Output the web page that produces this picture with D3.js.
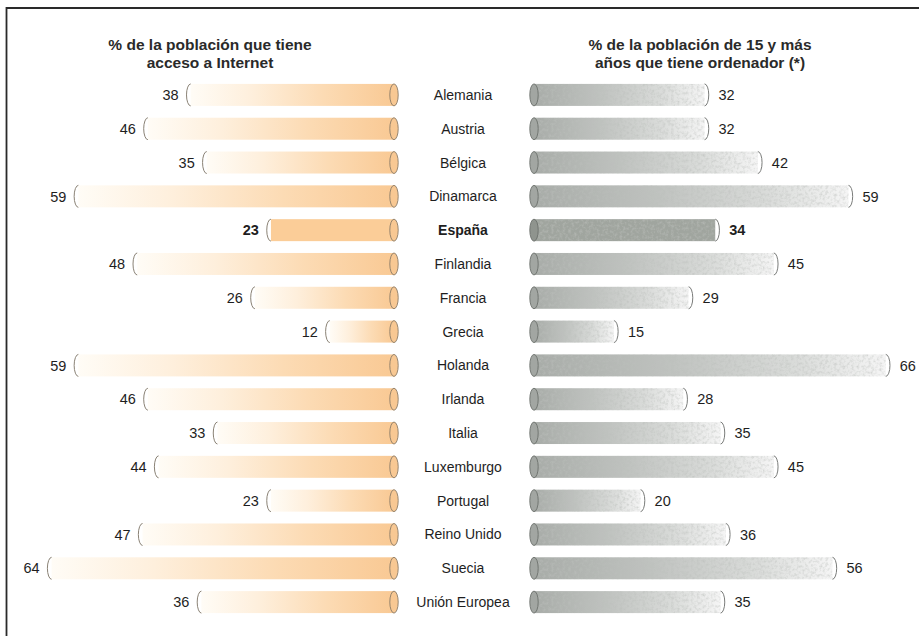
<!DOCTYPE html>
<html lang="es">
<head>
<meta charset="utf-8">
<script src="https://cdn.jsdelivr.net/npm/d3@7"></script>
<style>
  html, body { margin: 0; padding: 0; background: #fff; }
  svg { display: block; font-family: "Liberation Sans", Arial, sans-serif; }
</style>
</head>
<body>
<svg id="chart" width="919" height="636"></svg>
<script>
// Países y valores (%)
const countries = ["Alemania", "Austria", "Bélgica", "Dinamarca", "España", "Finlandia",
  "Francia", "Grecia", "Holanda", "Irlanda", "Italia", "Luxemburgo", "Portugal",
  "Reino Unido", "Suecia", "Unión Europea"];
const internet = [38, 46, 35, 59, 23, 48, 26, 12, 59, 46, 33, 44, 23, 47, 64, 36];
const ordenador = [32, 32, 42, 59, 34, 45, 29, 15, 66, 28, 35, 45, 20, 36, 56, 35];
const highlight = "España";
const titleLeft = ["% de la población que tiene", "acceso a Internet"];
const titleRight = ["% de la población de 15 y más", "años que tiene ordenador (*)"];

const svg = d3.select("#chart");
const W = 919, H = 636;

// Marco: línea superior e izquierda
svg.append("path")
  .attr("d", `M6.5,${H} V8 H${W}`)
  .attr("fill", "none").attr("stroke", "#2a2a2a").attr("stroke-width", 1.8);

const y = d3.scaleBand().domain(countries).range([78, 619]).paddingInner(0.35).paddingOuter(0.175);
const bh = y.bandwidth();
const xL = d3.scaleLinear().domain([0, 70]).range([394, 394 - 70 * 5.35]);
const xR = d3.scaleLinear().domain([0, 70]).range([534, 534 + 70 * 5.33]);

const defs = svg.append("defs");
const gradL = defs.append("linearGradient").attr("id", "gradL")
  .attr("x1", "0").attr("x2", "1").attr("y1", "0").attr("y2", "0");
[[0, "#fffcf6"], [0.3, "#feefdc"], [0.65, "#fcdbb4"], [1, "#f9c994"]].forEach(([o, c]) =>
  gradL.append("stop").attr("offset", o).attr("stop-color", c));
const gradR = defs.append("linearGradient").attr("id", "gradR")
  .attr("x1", "0").attr("x2", "1").attr("y1", "0").attr("y2", "0");
[[0, "#a8aca8"], [0.4, "#c0c3c0"], [0.75, "#dadcda"], [1, "#f5f5f5"]].forEach(([o, c]) =>
  gradR.append("stop").attr("offset", o).attr("stop-color", c));

// Grano moteado sobre las barras grises
const noise = defs.append("filter").attr("id", "grain").attr("x", 0).attr("y", 0).attr("width", 1).attr("height", 1);
noise.append("feTurbulence").attr("type", "fractalNoise").attr("baseFrequency", 0.35).attr("numOctaves", 3).attr("seed", 7).attr("result", "n");
noise.append("feColorMatrix").attr("in", "n").attr("type", "matrix")
  .attr("values", "0 0 0 0 0.5  0 0 0 0 0.52  0 0 0 0 0.5  0 0 0 -1.2 0.7").attr("result", "nc");
noise.append("feComposite").attr("in", "nc").attr("in2", "SourceGraphic").attr("operator", "in").attr("result", "nm");
noise.append("feMerge").selectAll("feMergeNode").data(["SourceGraphic", "nm"]).join("feMergeNode").attr("in", d => d);

const rx = 4.2;
const textColor = "#1e1e1e";

// Títulos
function title(lines, cx) {
  svg.append("text").attr("x", cx).attr("y", 50).attr("text-anchor", "middle")
    .attr("font-size", 15.5).attr("font-weight", "bold").attr("fill", "#2a2a2a")
    .selectAll("tspan").data(lines).join("tspan")
    .attr("x", cx).attr("dy", (d, i) => i ? 18 : 0).text(d => d);
}
title(titleLeft, 210);
title(titleRight, 700);

const rows = svg.append("g").selectAll("g").data(countries).join("g")
  .attr("transform", d => `translate(0,${y(d)})`);

rows.each(function (c, i) {
  const g = d3.select(this);
  const hi = c === highlight;
  const cy = bh / 2;
  const weight = hi ? "bold" : "normal";

  // Barra izquierda: acceso a Internet
  const v = internet[i];
  const x0 = xL(v), x1 = xL(0);
  g.append("rect").attr("x", x0).attr("y", 0).attr("width", x1 - x0).attr("height", bh)
    .attr("fill", hi ? "#fbcd98" : "url(#gradL)");
  g.append("path")
    .attr("d", `M${x0},0 A${rx},${cy} 0 0 0 ${x0},${bh}`)
    .attr("fill", "none").attr("stroke", "#8a8275").attr("stroke-width", 1);
  g.append("ellipse").attr("cx", x1).attr("cy", cy).attr("rx", rx).attr("ry", cy)
    .attr("fill", "#f8c893").attr("stroke", "#8a7a66").attr("stroke-width", 0.9);
  g.append("text").attr("x", x0 - 12).attr("y", cy).attr("dy", "0.36em")
    .attr("text-anchor", "end").attr("font-size", 14.5).attr("fill", textColor)
    .attr("font-weight", weight).text(v);

  // Barra derecha: ordenador
  const w = ordenador[i];
  const r0 = xR(0), r1 = xR(w);
  g.append("rect").attr("x", r0).attr("y", 0).attr("width", r1 - r0).attr("height", bh)
    .attr("fill", hi ? "#a0a59f" : "url(#gradR)").attr("filter", "url(#grain)");
  g.append("path")
    .attr("d", `M${r1},0 A${rx},${cy} 0 0 1 ${r1},${bh}`)
    .attr("fill", "none").attr("stroke", "#7a7c7a").attr("stroke-width", 1);
  g.append("ellipse").attr("cx", r0).attr("cy", cy).attr("rx", rx).attr("ry", cy)
    .attr("fill", hi ? "#8f948e" : "#a2a6a2").attr("stroke", "#6c706c").attr("stroke-width", 0.9);
  g.append("text").attr("x", r1 + 14).attr("y", cy).attr("dy", "0.36em")
    .attr("font-size", 14.5).attr("fill", textColor)
    .attr("font-weight", weight).text(w);

  // Nombre del país
  g.append("text").attr("x", 463).attr("y", cy).attr("dy", "0.36em")
    .attr("text-anchor", "middle").attr("font-size", 14).attr("fill", textColor)
    .attr("font-weight", weight).text(c);
});
</script>
</body>
</html>
